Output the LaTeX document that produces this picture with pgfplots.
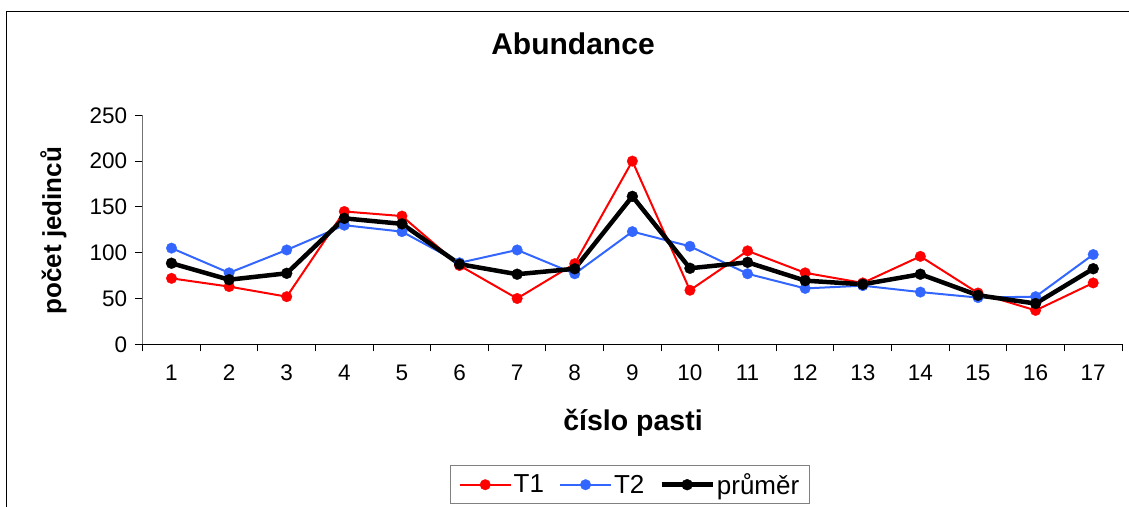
\documentclass[border=0pt]{standalone}
\usepackage{pgfplots}
\pgfplotsset{compat=1.18}
\usepackage{fontspec}
\setmainfont{Liberation Sans}
\definecolor{tred}{RGB}{255,0,0}
\definecolor{tblue}{RGB}{51,102,255}
\newcommand{\legdp}{\rule[-14pt]{0pt}{1pt}}
\begin{document}
\begin{tikzpicture}[x=1pt,y=1pt]
\path[use as bounding box] (0,0) rectangle (1129,506);
\draw[line width=1.5pt] (6.5,-5) -- (6.5,494.5) -- (1135,494.5);
\node[font=\fontsize{30}{36}\selectfont\bfseries, anchor=base] at (573,451) {Abundance};
\node[font=\fontsize{26}{30}\selectfont\bfseries, rotate=90, anchor=base] at (61,275.4) {počet jedinců};
\node[font=\fontsize{28.5}{34}\selectfont\bfseries, anchor=base] at (633,76) {číslo pasti};
\begin{axis}[
  at={(142.7pt,161.7pt)}, anchor=south west,
  scale only axis, width=979.3pt, height=229pt,
  xmin=0.5, xmax=17.5, ymin=0, ymax=250,
  axis x line=bottom, axis y line=left,
  axis line style={-, line width=1pt},
  y axis line style={draw=gray!90!black},
  xtick={1,...,17}, minor xtick={0.5,1.5,...,17.5},
  ytick={0,50,...,250},
  tick align=outside,
  major tick length=8pt, minor tick length=7pt,
  tick style={black, line width=1pt},
  major x tick style={draw=none},
  /pgf/number format/assume math mode=true,
  ticklabel style={font=\fontsize{22.5}{27}\selectfont},
  xticklabel style={text height=16pt, text depth=0pt},
  xticklabel shift=9pt, yticklabel shift=4pt,
  clip=false,
  legend columns=3,
  legend style={at={(0.4976,-0.527)}, anchor=north, draw=gray, line width=1pt,
    font=\fontsize{26}{30}\selectfont, inner ysep=6pt, inner xsep=8pt,
    /tikz/every even column/.append style={column sep=13pt}},
  legend image code/.code={\draw[mark repeat=2,mark phase=2,#1] plot coordinates {(0pt,0pt) (25.5pt,0pt) (51pt,0pt)};},
]
\addplot[tred, line width=2pt, mark=*, mark size=5.3pt, mark options={solid, line width=0.3pt, fill=tred}] coordinates {
(1,72) (2,63) (3,52) (4,145) (5,140) (6,86) (7,50) (8,88) (9,200) (10,59) (11,102) (12,78) (13,67) (14,96) (15,56) (16,37) (17,67)};
\addlegendentry{T1\legdp}
\addplot[tblue, line width=2pt, mark=*, mark size=5.3pt, mark options={solid, line width=0.3pt, fill=tblue}] coordinates {
(1,105) (2,78) (3,103) (4,130) (5,123) (6,89) (7,103) (8,77) (9,123) (10,107) (11,77) (12,61) (13,64) (14,57) (15,51) (16,52) (17,98)};
\addlegendentry{T2\legdp}
\addplot[black, line width=4.5pt, mark=*, mark size=5.5pt, mark options={solid, line width=0.3pt, fill=black}] coordinates {
(1,88.5) (2,70.5) (3,77.5) (4,137.5) (5,131.5) (6,87.5) (7,76.5) (8,82.5) (9,161.5) (10,83) (11,89.5) (12,69.5) (13,65.5) (14,76.5) (15,53.5) (16,44.5) (17,82.5)};
\addlegendentry{průměr\legdp}
\end{axis}
\end{tikzpicture}
\end{document}
